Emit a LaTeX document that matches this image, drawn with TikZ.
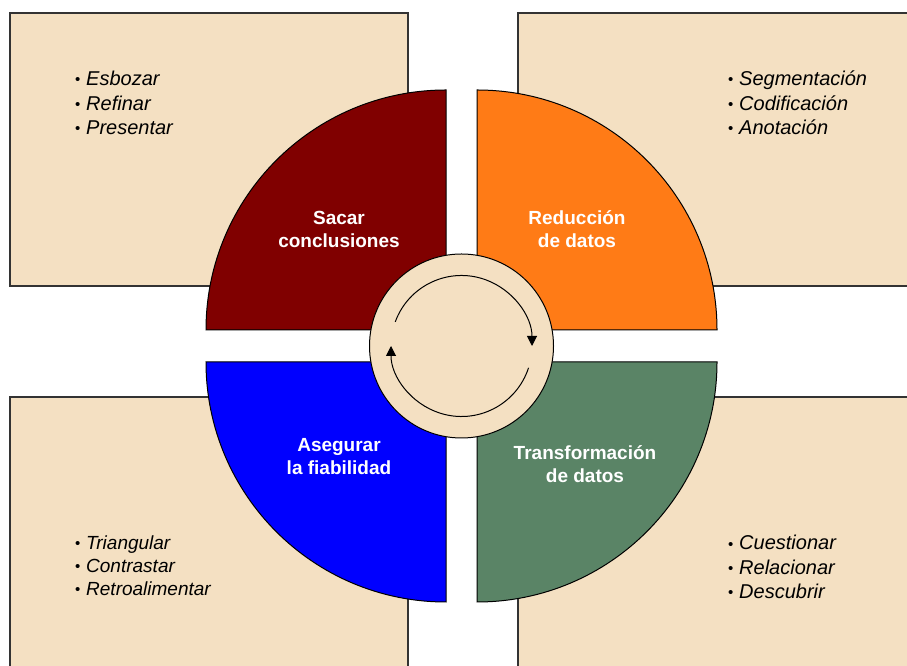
\documentclass[tikz,border=0pt]{standalone}
\usepackage{fontspec}
\setmainfont{Liberation Sans}
\usetikzlibrary{arrows.meta}
\definecolor{beige}{HTML}{F4E0C2}
\definecolor{boxline}{HTML}{333333}
\definecolor{qred}{HTML}{800000}
\definecolor{qorange}{HTML}{FF7B16}
\definecolor{qblue}{HTML}{0000FF}
\definecolor{qgreen}{HTML}{5A8466}
\newcommand{\blt}{\makebox[11pt][l]{\raisebox{0.8pt}{\upshape\fontsize{15}{15}\selectfont •}}}
\tikzset{
  infobox/.style={fill=beige, draw=boxline, line width=1.2pt},
  quarter/.style={draw=black, line width=1pt},
  lab/.style={text=white, font=\bfseries\fontsize{19}{23}\selectfont, align=center},
  lst/.style={font=\itshape\fontsize{20}{24.5}\selectfont, align=left, anchor=west, inner sep=0pt},
  cyc/.style={draw=black, line width=1pt, -{Triangle[length=10pt,width=10pt]}}
}
\begin{document}
\begin{tikzpicture}[x=1pt,y=1pt]
\useasboundingbox (0,0) rectangle (907,666);
\clip (0,0) rectangle (907,666);
% boxes
\draw[infobox] (10,380) rectangle (408,653);
\draw[infobox] (518,380) rectangle (920,653);
\draw[infobox] (10,-20) rectangle (408,269);
\draw[infobox] (518,-20) rectangle (920,269);
% quarters
\fill[qred] (446,336) -- (446,576) arc (90:180:240) -- cycle;
\draw[quarter] (446,336) -- (446,576) arc (90:180:240) -- cycle;
\fill[qorange] (477,336) -- (717,336) arc (0:90:240) -- cycle;
\draw[quarter] (477,336) -- (717,336) arc (0:90:240) -- cycle;
\fill[qblue] (446,304) -- (206,304) arc (180:270:240) -- cycle;
\draw[quarter] (446,304) -- (206,304) arc (180:270:240) -- cycle;
\fill[qgreen] (477,304) -- (477,64) arc (270:360:240) -- cycle;
\draw[quarter] (477,304) -- (477,64) arc (270:360:240) -- cycle;
% hub
\node (hub) [circle, fill=beige, draw=black, line width=1pt, minimum size=184pt, inner sep=0pt] at (461.5,320) {};
\draw[cyc] (hub.center) ++(160:70.5) arc (160:0:70.5);
\draw[cyc] (hub.center) ++(-18:70.5) arc (-18:-180:70.5);
% labels
\node (l1) [lab] at (339,436.5) {Sacar\\conclusiones};
\node (l2) [lab] at (577,436.5) {Reducción\\de datos};
\node (l3) [lab] at (339,209) {Asegurar\\la fiabilidad};
\node (l4) [lab] at (585,201.5) {Transformación\\de datos};
% lists
\node (t1) [lst] at (75,563) {\blt Esbozar\\\blt Refinar\\\blt Presentar};
\node (t2) [lst] at (728,563) {\blt Segmentación\\\blt Codificación\\\blt Anotación};
\node (t3) [lst, font=\itshape\fontsize{19}{23}\selectfont] at (75,100) {\blt Triangular\\\blt Contrastar\\\blt Retroalimentar};
\node (t4) [lst, font=\itshape\fontsize{20}{24.3}\selectfont] at (728,99) {\blt Cuestionar\\\blt Relacionar\\\blt Descubrir};
\end{tikzpicture}
\end{document}
